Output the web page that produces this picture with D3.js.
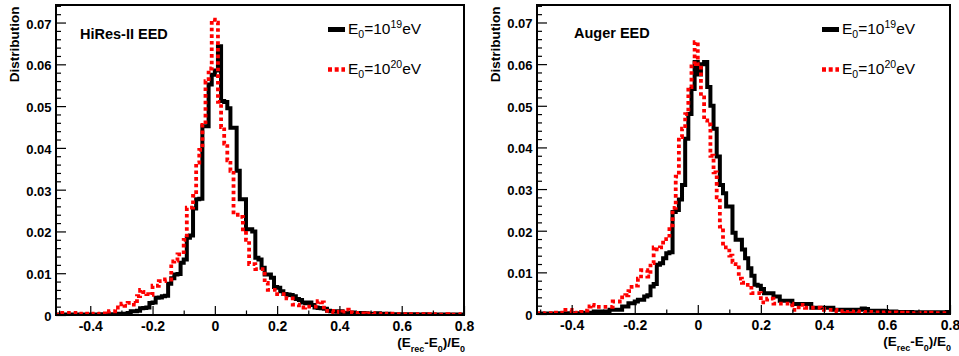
<!DOCTYPE html>
<html><head><meta charset="utf-8">
<script src="https://cdn.jsdelivr.net/npm/d3@7"></script>
<style>body{margin:0;background:#fff}svg{display:block}</style>
</head><body>
<svg id="c" width="959" height="356"></svg>
<script>
// histogram binning: 131 bins of width 0.01 starting at -0.51
const binStart = -0.51, binWidth = 0.01;

const hiresE19 = [0,
 0.0001,0.0001,0.0001,0.0001,0.0001,0.0001,0.0001,0.0001,0.0001,0.0001,
 0.0001,0.0001,0.0001,0.0002,0.0001,0.0002,0.0002,0.0002,0.0002,0.0003,
 0.0002,0.0003,0.0005,0.0009,0.0009,0.0010,0.0016,0.0017,0.0018,0.0029,
 0.0030,0.0041,0.0042,0.0045,0.0046,0.0075,0.0088,0.0097,0.0098,0.0125,
 0.0133,0.0185,0.0190,0.0255,0.0277,0.0278,0.0452,0.0452,0.0552,0.0575,
 0.0585,0.0643,0.0512,0.0510,0.0495,0.0448,0.0448,0.0345,0.0277,0.0277,
 0.0205,0.0205,0.0200,0.0137,0.0133,0.0113,0.0097,0.0097,0.0089,0.0067,
 0.0065,0.0057,0.0050,0.0049,0.0048,0.0045,0.0038,0.0036,0.0030,0.0028,
 0.0030,0.0024,0.0018,0.0017,0.0016,0.0015,0.0010,0.0009,0.0009,0.0008,
 0.0009,0.0005,0.0005,0.0005,0.0006,0.0005,0.0004,0.0005,0.0004,0.0003,
 0.0003,0.0003,0.0004,0.0003,0.0002,0.0003,0.0002,0.0002,0.0002,0.0002,
 0.0002,0.0001,0.0002,0.0001,0.0002,0.0001,0.0001,0.0002,0.0001,0.0001,
 0.0001,0.0001,0.0001,0.0001,0.0001,0.0001,0.0001,0.0001,0.0001,0.0001];

const hiresE20 = [0,
 0.0001,0.0005,0.0005,0.0005,0.0005,0.0005,0.0003,0.0002,0.0003,0.0002,
 0.0002,0.0003,0.0002,0.0003,0.0004,0.0003,0.0009,0.0009,0.0018,0.0018,
 0.0027,0.0022,0.0029,0.0029,0.0025,0.0045,0.0060,0.0055,0.0050,0.0048,
 0.0070,0.0070,0.0081,0.0081,0.0085,0.0085,0.0128,0.0130,0.0145,0.0145,
 0.0180,0.0257,0.0257,0.0285,0.0365,0.0395,0.0455,0.0560,0.0590,0.0707,
 0.0700,0.0510,0.0450,0.0410,0.0370,0.0345,0.0240,0.0240,0.0235,0.0205,
 0.0180,0.0122,0.0122,0.0110,0.0110,0.0110,0.0077,0.0060,0.0060,0.0060,
 0.0050,0.0050,0.0050,0.0040,0.0040,0.0025,0.0025,0.0018,0.0018,0.0020,
 0.0020,0.0020,0.0020,0.0033,0.0030,0.0010,0.0010,0.0010,0.0007,0.0008,
 0.0006,0.0008,0.0013,0.0006,0.0005,0.0004,0.0005,0.0004,0.0003,0.0004,
 0.0005,0.0003,0.0003,0.0002,0.0003,0.0002,0.0002,0.0003,0.0002,0.0002,
 0.0002,0.0002,0.0001,0.0002,0.0002,0.0001,0.0002,0.0001,0.0002,0.0001,
 0.0001,0.0002,0.0001,0.0001,0.0002,0.0001,0.0001,0.0001,0.0001,0.0002];

const augerE19 = [0.0001,
 0.0001,0.0001,0.0001,0.0001,0.0001,0.0002,0.0001,0.0002,0.0001,0.0002,
 0.0002,0.0002,0.0002,0.0003,0.0002,0.0003,0.0003,0.0006,0.0006,0.0006,
 0.0006,0.0006,0.0010,0.0010,0.0010,0.0010,0.0018,0.0018,0.0026,0.0026,
 0.0030,0.0034,0.0034,0.0042,0.0045,0.0066,0.0072,0.0118,0.0122,0.0134,
 0.0146,0.0148,0.0245,0.0250,0.0275,0.0310,0.0421,0.0480,0.0540,0.0605,
 0.0575,0.0600,0.0605,0.0545,0.0500,0.0445,0.0378,0.0310,0.0290,0.0258,
 0.0258,0.0195,0.0178,0.0178,0.0155,0.0134,0.0110,0.0092,0.0070,0.0068,
 0.0060,0.0050,0.0050,0.0050,0.0042,0.0042,0.0032,0.0032,0.0032,0.0032,
 0.0024,0.0024,0.0024,0.0024,0.0024,0.0024,0.0015,0.0015,0.0015,0.0015,
 0.0015,0.0015,0.0015,0.0010,0.0010,0.0010,0.0010,0.0010,0.0010,0.0010,
 0.0010,0.0010,0.0013,0.0012,0.0008,0.0008,0.0008,0.0007,0.0008,0.0007,
 0.0006,0.0005,0.0006,0.0005,0.0005,0.0005,0.0004,0.0005,0.0004,0.0004,
 0.0004,0.0004,0.0003,0.0004,0.0004,0.0003,0.0004,0.0003,0.0004,0.0005];

const augerE20 = [0.0001,
 0.0002,0.0001,0.0002,0.0002,0.0001,0.0003,0.0002,0.0003,0.0010,0.0010,
 0.0005,0.0003,0.0004,0.0005,0.0008,0.0018,0.0022,0.0020,0.0017,0.0017,
 0.0017,0.0017,0.0017,0.0030,0.0030,0.0030,0.0040,0.0045,0.0055,0.0065,
 0.0068,0.0085,0.0105,0.0105,0.0090,0.0122,0.0160,0.0155,0.0160,0.0180,
 0.0180,0.0213,0.0255,0.0330,0.0425,0.0445,0.0480,0.0545,0.0600,0.0653,
 0.0600,0.0520,0.0465,0.0455,0.0380,0.0340,0.0280,0.0210,0.0160,0.0160,
 0.0140,0.0125,0.0120,0.0085,0.0075,0.0070,0.0070,0.0050,0.0050,0.0050,
 0.0028,0.0028,0.0037,0.0037,0.0025,0.0025,0.0025,0.0025,0.0025,0.0025,
 0.0010,0.0010,0.0022,0.0022,0.0015,0.0015,0.0015,0.0015,0.0015,0.0012,
 0.0010,0.0010,0.0010,0.0010,0.0007,0.0006,0.0007,0.0005,0.0006,0.0005,
 0.0006,0.0005,0.0005,0.0004,0.0005,0.0004,0.0004,0.0004,0.0003,0.0004,
 0.0003,0.0003,0.0004,0.0003,0.0003,0.0002,0.0003,0.0003,0.0002,0.0003,
 0.0002,0.0003,0.0002,0.0002,0.0003,0.0002,0.0002,0.0002,0.0002,0.0002];

const xTickValues = [-0.4,-0.2,0,0.2,0.4,0.6,0.8];
const xTickLabels = ["-0.4","-0.2","0","0.2","0.4","0.6","0.8"];
const xMinorValues = [-0.5,-0.3,-0.1,0.1,0.3,0.5,0.7];
const yTickValues = [0,0.01,0.02,0.03,0.04,0.05,0.06,0.07];
const yTickLabels = ["0","0.01","0.02","0.03","0.04","0.05","0.06","0.07"];
const yMinorValues = [0.002,0.004,0.006,0.008,0.012,0.014,0.016,0.018,0.022,0.024,0.026,0.028,
  0.032,0.034,0.036,0.038,0.042,0.044,0.046,0.048,0.052,0.054,0.056,0.058,0.062,0.064,0.066,0.068,0.072,0.074];
const xDomain = [-0.51, 0.8];
const yDomain = [0, 0.0742];
const legendLabels = [{base:"E", sub:"0", mid:"=10", sup:"19", end:"eV"},
                      {base:"E", sub:"0", mid:"=10", sup:"20", end:"eV"}];

const panels = [
  {title:"HiRes-II EED", e19:hiresE19, e20:hiresE20,
   x0:56, x1:464, y0:5, y1:315, titleX:80, titleY:39, ylabX:18.5, legX:328},
  {title:"Auger EED", e19:augerE19, e20:augerE20,
   x0:537, x1:950, y0:5, y1:314, titleX:574, titleY:37.5, ylabX:500, legX:822}
];

const svg = d3.select("#c");
svg.append("rect").attr("width",959).attr("height",356).attr("fill","#fff");
const FONT = "'Liberation Sans', Arial, Helvetica, sans-serif";

panels.forEach((p, pi) => {
  const x = d3.scaleLinear().domain(xDomain).range([p.x0, p.x1]);
  const y = d3.scaleLinear().domain(yDomain).range([p.y1, p.y0]);
  const g = svg.append("g");

  const clipId = "clip" + pi;
  svg.append("clipPath").attr("id", clipId).append("rect")
    .attr("x", p.x0).attr("y", p.y0).attr("width", p.x1 - p.x0).attr("height", p.y1 - p.y0);

  const stepLine = d3.line().curve(d3.curveStepAfter).x(d => x(d[0])).y(d => y(d[1]));
  const toPts = vals => {
    const pts = vals.map((v, i) => [binStart + i * binWidth, v]);
    pts.push([binStart + vals.length * binWidth, vals[vals.length - 1]]);
    return pts;
  };

  const hg = g.append("g").attr("clip-path", `url(#${clipId})`);
  hg.append("path").attr("d", stepLine(toPts(p.e19)))
    .attr("fill","none").attr("stroke","#000").attr("stroke-width",4).attr("stroke-linejoin","miter");
  hg.append("path").attr("d", stepLine(toPts(p.e20)))
    .attr("fill","none").attr("stroke","#ff0000").attr("stroke-width",3.8)
    .attr("stroke-dasharray","3.6,3");

  // x axis (major and minor ticks pointing inward)
  const xa = d3.axisBottom(x).tickValues(xTickValues)
    .tickFormat((d, i) => xTickLabels[i]).tickSizeInner(-9).tickSizeOuter(0).tickPadding(6);
  const xg = g.append("g").attr("transform", `translate(0,${p.y1})`).call(xa);
  const xm = d3.axisBottom(x).tickValues(xMinorValues).tickFormat("").tickSizeInner(-4.5).tickSizeOuter(0);
  const xmg = g.append("g").attr("transform", `translate(0,${p.y1})`).call(xm);

  const ya = d3.axisLeft(y).tickValues(yTickValues)
    .tickFormat((d, i) => yTickLabels[i]).tickSizeInner(-10).tickSizeOuter(0).tickPadding(4.5);
  const yg = g.append("g").attr("transform", `translate(${p.x0},0)`).call(ya);
  const ym = d3.axisLeft(y).tickValues(yMinorValues).tickFormat("").tickSizeInner(-5).tickSizeOuter(0);
  const ymg = g.append("g").attr("transform", `translate(${p.x0},0)`).call(ym);

  [xg, xmg, yg, ymg].forEach(a => {
    a.select(".domain").remove();
    a.selectAll("line").attr("stroke","#000").attr("stroke-width",1.2);
  });
  xg.selectAll("text").attr("font-family",FONT).attr("font-weight","bold").attr("font-size",14).attr("fill","#000");
  yg.selectAll("text").attr("font-family",FONT).attr("font-weight","bold").attr("font-size",13).attr("fill","#000").attr("dy","0.42em");

  // frame
  g.append("rect").attr("x", p.x0).attr("y", p.y0).attr("width", p.x1 - p.x0).attr("height", p.y1 - p.y0)
    .attr("fill","none").attr("stroke","#000").attr("stroke-width",2);

  // y axis title
  g.append("text").attr("transform", `translate(${p.ylabX},${p.y0 + 1.5}) rotate(-90)`)
    .attr("text-anchor","end").attr("font-family",FONT).attr("font-weight","bold")
    .attr("font-size",13.5).text("Distribution");

  // x axis title
  const xt = g.append("text").attr("x", p.x1 + 1).attr("y", p.y1 + 32).attr("text-anchor","end")
    .attr("font-family",FONT).attr("font-weight","bold").attr("font-size",13.5);
  xt.append("tspan").text("(E");
  xt.append("tspan").attr("font-size",9).attr("dy",5).text("rec");
  xt.append("tspan").attr("dy",-5).text("-E");
  xt.append("tspan").attr("font-size",9).attr("dy",5).text("0");
  xt.append("tspan").attr("dy",-5).text(")/E");
  xt.append("tspan").attr("font-size",9).attr("dy",5).text("0");

  // panel title
  g.append("text").attr("x", p.titleX).attr("y", p.titleY).attr("font-family",FONT)
    .attr("font-weight","bold").attr("font-size",14.5).text(p.title);

  // legend
  const legY = [29.5, 69.5];
  legendLabels.forEach((L, li) => {
    const ly = legY[li];
    const ln = g.append("line").attr("x1", p.legX).attr("x2", p.legX + 17).attr("y1", ly).attr("y2", ly);
    if (li === 0) ln.attr("stroke","#000").attr("stroke-width",5);
    else ln.attr("stroke","#ff0000").attr("stroke-width",4.5).attr("stroke-dasharray","4,2.7");
    const t = g.append("text").attr("x", p.legX + 20).attr("y", ly + 4.5)
      .attr("font-family",FONT).attr("font-size",15.5);
    t.append("tspan").text(L.base);
    t.append("tspan").attr("font-size",10.5).attr("dy",3.5).text(L.sub);
    t.append("tspan").attr("dy",-3.5).text(L.mid);
    t.append("tspan").attr("font-size",10.5).attr("dy",-6).text(L.sup);
    t.append("tspan").attr("dy",6).text(L.end);
  });
});
</script>
</body></html>
